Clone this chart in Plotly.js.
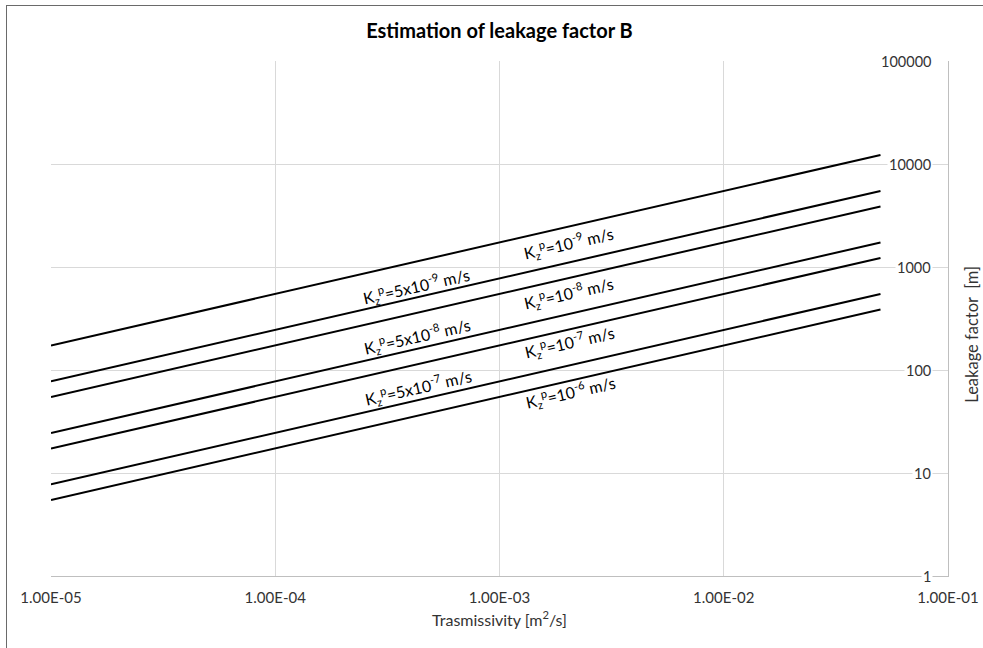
<!DOCTYPE html>
<html>
<head>
<meta charset="utf-8">
<script src="https://cdn.plot.ly/plotly-3.0.1.min.js"></script>
<style>
  html, body { margin: 0; padding: 0; background: #fff; overflow: hidden; width: 983px; height: 648px; }
  #chart { position: absolute; left: 0; top: 0; width: 983px; height: 648px; }
  #frame { position: absolute; left: 6px; top: 5px; width: 977px; height: 643px;
           border-left: 1.5px solid #6a6a6a; border-top: 1.5px solid #6a6a6a;
           box-sizing: border-box; pointer-events: none; z-index: 5; }
</style>
</head>
<body>
<div id="chart"></div>
<div id="frame"></div>
<script>
// Transmissivity sample points (m2/s)
var transmissivity = [1e-5, 1e-4, 1e-3, 1e-2, 5e-2];

// Leakage factor B (m) for each aquitard conductivity
var B_1e9  = [173, 548, 1730, 5480, 12250];
var B_5e9  = [77.5, 245, 775, 2450, 5480];
var B_1e8  = [54.8, 173, 548, 1730, 3870];
var B_5e8  = [24.5, 77.5, 245, 775, 1730];
var B_1e7  = [17.3, 54.8, 173, 548, 1225];
var B_5e7  = [7.75, 24.5, 77.5, 245, 548];
var B_1e6  = [5.48, 17.3, 54.8, 173, 387];

var seriesNames = ['K=1e-9', 'K=5e-9', 'K=1e-8', 'K=5e-8', 'K=1e-7', 'K=5e-7', 'K=1e-6'];
var seriesValues = [B_1e9, B_5e9, B_1e8, B_5e8, B_1e7, B_5e7, B_1e6];

var lineLabels = [
  'K<sub>z</sub><sup>p</sup>=10<sup>-9</sup> m/s',
  'K<sub>z</sub><sup>p</sup>=5x10<sup>-9</sup> m/s',
  'K<sub>z</sub><sup>p</sup>=10<sup>-8</sup> m/s',
  'K<sub>z</sub><sup>p</sup>=5x10<sup>-8</sup> m/s',
  'K<sub>z</sub><sup>p</sup>=10<sup>-7</sup> m/s',
  'K<sub>z</sub><sup>p</sup>=5x10<sup>-7</sup> m/s',
  'K<sub>z</sub><sup>p</sup>=10<sup>-6</sup> m/s'
];

var xTickVals = [1e-5, 1e-4, 1e-3, 1e-2, 1e-1];
var xTickText = ['1.00E-05', '1.00E-04', '1.00E-03', '1.00E-02', '1.00E-01'];
var yTickVals = [1, 10, 100, 1000, 10000, 100000];
var yTickText = ['1', '10', '100', '1000', '10000', '100000'];

var FONT = 'Lato, "Open Sans", sans-serif';

var traces = seriesValues.map(function (vals, i) {
  return {
    x: transmissivity,
    y: vals,
    name: seriesNames[i],
    type: 'scatter',
    mode: 'lines',
    line: { color: '#000000', width: 2 },
    hoverinfo: 'x+y'
  };
});

// label placement (log10 coordinates of label centres along the lines)
var labelPos = [
  [-2.694, 3.232],
  [-3.372, 2.815],
  [-2.694, 2.747],
  [-3.367, 2.329],
  [-2.690, 2.271],
  [-3.359, 1.834],
  [-2.685, 1.785]
];

var annotations = [];
lineLabels.forEach(function (t, i) {
  annotations.push({
    x: labelPos[i][0], y: labelPos[i][1], xref: 'x', yref: 'y',
    text: t, showarrow: false, textangle: -12.9,
    xanchor: 'center', yanchor: 'middle',
    font: { family: FONT, size: 16, color: '#000' }
  });
});

// y tick labels drawn inside the right axis with white background (as in reference)
yTickVals.forEach(function (v, i) {
  annotations.push({
    x: 1, xref: 'paper', y: Math.log10(v), yref: 'y',
    xanchor: 'right', yanchor: 'middle', xshift: -15,
    text: yTickText[i], showarrow: false, bgcolor: '#ffffff', borderpad: 1,
    font: { family: FONT, size: 14.5, color: '#333' }
  });
});

// y axis title
annotations.push({
  x: 1.0268, xref: 'paper', y: 0.4686, yref: 'paper',
  xanchor: 'center', yanchor: 'middle', textangle: -90,
  text: 'Leakage factor\u00A0\u00A0[m]', showarrow: false,
  font: { family: FONT, size: 16.5, color: '#333' }
});

var layout = {
  width: 983, height: 648,
  margin: { l: 51, r: 35, t: 61, b: 72, pad: 0 },
  paper_bgcolor: '#ffffff', plot_bgcolor: '#ffffff',
  showlegend: false,
  title: {
    text: '<b>Estimation of leakage factor B</b>',
    font: { family: FONT, size: 20, color: '#000' },
    xref: 'paper', x: 0.5, xanchor: 'center',
    yref: 'container', y: 1 - 31 / 648, yanchor: 'middle'
  },
  xaxis: {
    type: 'log', range: [-5, -1],
    tickvals: xTickVals, ticktext: xTickText,
    showgrid: true, gridcolor: '#d9d9d9', gridwidth: 1,
    showline: true, linecolor: '#bfbfbf', linewidth: 1.3,
    zeroline: false, ticks: '',
    tickfont: { family: FONT, size: 15, color: '#333' },
    ticklabelstandoff: 8,
    title: { text: 'Trasmissivity [m<sup>2</sup>/s]', font: { family: FONT, size: 16, color: '#333' }, standoff: 9 }
  },
  yaxis: {
    type: 'log', range: [0, 5], side: 'right',
    tickvals: yTickVals, showticklabels: false,
    showgrid: true, gridcolor: '#d9d9d9', gridwidth: 1,
    showline: true, linecolor: '#bfbfbf', linewidth: 1.3,
    zeroline: false, ticks: ''
  },
  annotations: annotations
};

Plotly.newPlot('chart', traces, layout, { displayModeBar: false, staticPlot: true });
</script>
</body>
</html>
